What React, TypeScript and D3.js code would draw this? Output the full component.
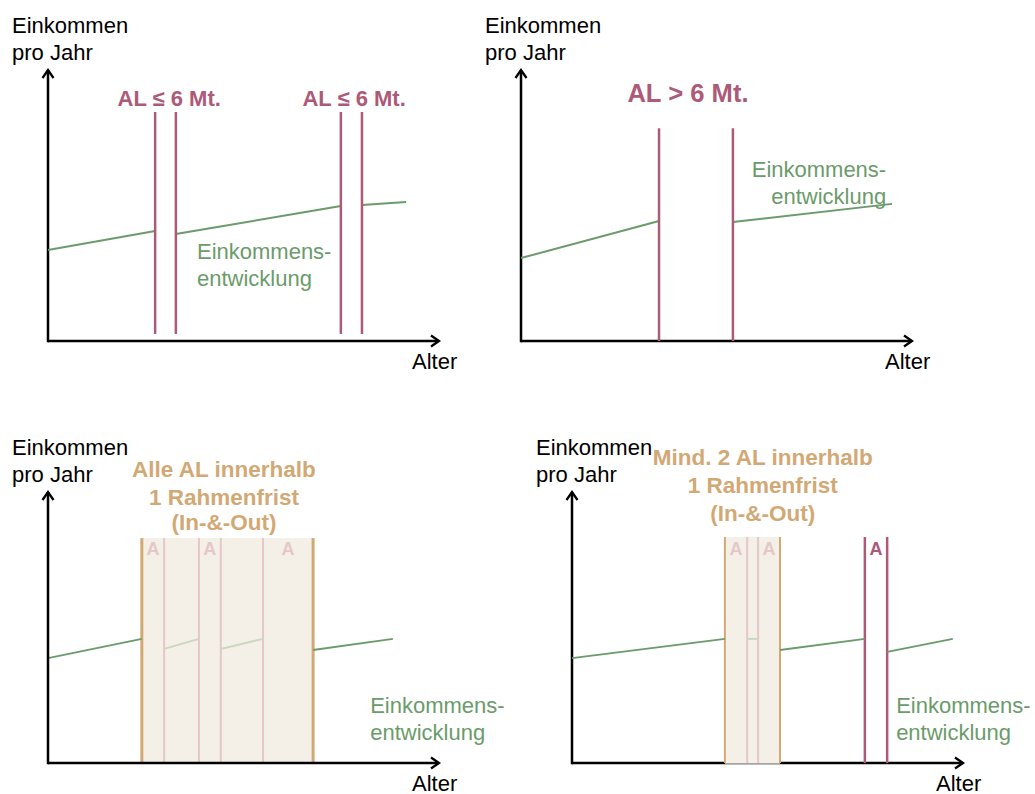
import React from "react";
import * as d3 from "d3";

// ---------- data (abstract units: Alter 0..100, Einkommen 0..100) ----------
const panelOrigins = [
  [48, 341],
  [521, 341],
  [48, 763],
  [572, 763],
];
const yAxisLabel = ["Einkommen", "pro Jahr"];
const xAxisLabel = "Alter";
const incomeLabel = ["Einkommens-", "entwicklung"];

// Panel 1: two short unemployment spells
const p1Spells = [
  [27.4, 32.7],
  [74.9, 80.3],
];
const p1Income = [
  [[0, 33.6], [27.4, 40.6]],
  [[32.7, 39.5], [74.9, 49.8]],
  [[80.3, 50.2], [91.6, 51.3]],
];
const p1SpellLabels = ["AL ≤ 6 Mt.", "AL ≤ 6 Mt."];
const p1SpellLabelX = [31, 78.3];

// Panel 2: one long unemployment spell
const p2Spells = [[35.3, 54.2]];
const p2Income = [
  [[0, 30.6], [35.3, 44.3]],
  [[54.2, 43.9], [94.9, 50.6]],
];
const p2SpellLabel = "AL > 6 Mt.";

// Panel 3: all spells inside one Rahmenfrist
const p3Frame = [24.0, 67.8];
const p3Spells = [
  [24.0, 29.7],
  [38.6, 44.2],
  [55.0, 67.8],
];
const p3Income = [
  [[0, 38.7], [24.0, 45.8]],
  [[67.8, 41.7], [88.2, 45.8]],
];
const p3FadedIncome = [
  [[29.7, 42.1], [38.6, 45.8]],
  [[44.2, 42.1], [55.0, 45.8]],
];
const p3Title = ["Alle AL innerhalb", "1 Rahmenfrist", "(In-&-Out)"];

// Panel 4: at least two spells inside one Rahmenfrist, plus a later spell
const p4Frame = [39.1, 53.2];
const p4FrameSpells = [
  [39.1, 44.8],
  [47.6, 53.2],
];
const p4LaterSpells = [[74.9, 80.6]];
const p4Income = [
  [[0, 38.7], [39.1, 45.8]],
  [[53.2, 41.7], [74.9, 45.8]],
  [[80.6, 41.0], [97.4, 45.8]],
];
const p4FadedIncome = [[[44.8, 45.8], [47.6, 45.8]]];
const p4Title = ["Mind. 2 AL innerhalb", "1 Rahmenfrist", "(In-&-Out)"];

// ---------- styles ----------
const FONT = "'Liberation Sans', Arial, Helvetica, sans-serif";
const MAGENTA = "#ad5a78";
const GREEN = "#6b9b6b";
const LIGHT_GREEN = "#c9d8bf";
const TAN = "#d2a874";
const FRAME_FILL = "#f5f0e7";
const PINK = "#e3c7c9";

const x = d3.scaleLinear().domain([0, 100]).range([0, 391]);
const y = d3.scaleLinear().domain([0, 100]).range([0, -271]);
const line = d3
  .line<number[]>()
  .x((d) => x(d[0]))
  .y((d) => y(d[1]));

function Axes({ grayUnder }: { grayUnder?: number[] }) {
  const xEnd = x(100);
  const yTop = y(100);
  return (
    <g>
      <line x1={0} y1={0} x2={xEnd} y2={0} stroke="#000" strokeWidth={2.5} />
      <line x1={0} y1={1.2} x2={0} y2={yTop} stroke="#000" strokeWidth={2.5} />
      <path
        d={`M${xEnd - 8},${-5.5} L${xEnd},0 L${xEnd - 8},${5.5}`}
        fill="none"
        stroke="#000"
        strokeWidth={2.3}
      />
      <path
        d={`M${-5.5},${yTop + 8} L0,${yTop} L${5.5},${yTop + 8}`}
        fill="none"
        stroke="#000"
        strokeWidth={2.3}
      />
      {grayUnder && (
        <line
          x1={x(grayUnder[0])}
          x2={x(grayUnder[1])}
          y1={0}
          y2={0}
          stroke="#a9a6a2"
          strokeWidth={2.6}
        />
      )}
      <text x={-36} y={-308} fontFamily={FONT} fontSize={22} fill="#000">
        {yAxisLabel[0]}
      </text>
      <text x={-36} y={-281} fontFamily={FONT} fontSize={22} fill="#000">
        {yAxisLabel[1]}
      </text>
      <text x={364} y={28} fontFamily={FONT} fontSize={22} fill="#000">
        {xAxisLabel}
      </text>
    </g>
  );
}

function IncomeLines({ segs, color, width }: { segs: number[][][]; color: string; width: number }) {
  return (
    <g>
      {segs.map((s, i) => (
        <path key={i} d={line(s) || ""} fill="none" stroke={color} strokeWidth={width} />
      ))}
    </g>
  );
}

function IncomeLabel({ xv, yv, anchor }: { xv: number; yv: number; anchor?: string }) {
  return (
    <g fontFamily={FONT} fontSize={22} fill={GREEN} textAnchor={anchor || "start"}>
      <text x={x(xv)} y={y(yv)}>{incomeLabel[0]}</text>
      <text x={x(xv)} y={y(yv) + 27}>{incomeLabel[1]}</text>
    </g>
  );
}

function SpellLines({ spells, top, bottom, color, width }: { spells: number[][]; top: number; bottom: number; color: string; width: number }) {
  return (
    <g>
      {spells.map((s, i) => (
        <g key={i}>
          <line x1={x(s[0])} x2={x(s[0])} y1={y(bottom)} y2={y(top)} stroke={color} strokeWidth={width} />
          <line x1={x(s[1])} x2={x(s[1])} y1={y(bottom)} y2={y(top)} stroke={color} strokeWidth={width} />
        </g>
      ))}
    </g>
  );
}

function SpellLetters({ spells, color, yv }: { spells: number[][]; color: string; yv: number }) {
  return (
    <g fontFamily={FONT} fontSize={18} fontWeight="bold" fill={color} textAnchor="middle">
      {spells.map((s, i) => (
        <text key={i} x={x((s[0] + s[1]) / 2)} y={y(yv)}>
          A
        </text>
      ))}
    </g>
  );
}

function Title({ lines, xv, baselines }: { lines: string[]; xv: number; baselines: number[] }) {
  return (
    <g fontFamily={FONT} fontSize={22.5} fontWeight="bold" fill={TAN} textAnchor="middle">
      {lines.map((t, i) => (
        <text key={i} x={x(xv)} y={baselines[i]}>
          {t}
        </text>
      ))}
    </g>
  );
}

function Frame({ frame, spells, top, border }: { frame: number[]; spells: number[][]; top: number; border: number }) {
  const inner: number[] = [];
  spells.forEach((s) => {
    if (s[0] !== frame[0] && s[0] !== frame[1]) inner.push(s[0]);
    if (s[1] !== frame[0] && s[1] !== frame[1]) inner.push(s[1]);
  });
  return (
    <g>
      <rect
        x={x(frame[0])}
        y={y(top)}
        width={x(frame[1]) - x(frame[0])}
        height={-y(top)}
        fill={FRAME_FILL}
      />
      {inner.map((v, i) => (
        <line key={i} x1={x(v)} x2={x(v)} y1={0} y2={y(top)} stroke={PINK} strokeWidth={2} />
      ))}
      {frame.map((v, i) => (
        <line key={"f" + i} x1={x(v)} x2={x(v)} y1={0} y2={y(top)} stroke={TAN} strokeWidth={border} />
      ))}
    </g>
  );
}

export default function App() {
  const [o1, o2, o3, o4] = panelOrigins;
  return (
    <svg
      width={1035}
      height={794}
      style={{ position: "fixed", left: 0, top: 0, background: "#fff" }}
    >
      {/* Panel 1 */}
      <g transform={`translate(${o1[0]},${o1[1]})`}>
        <Axes />
        <IncomeLines segs={p1Income} color={GREEN} width={2} />
        <SpellLines spells={p1Spells} top={84.5} bottom={2.6} color={MAGENTA} width={2.5} />
        <g fontFamily={FONT} fontSize={22} fontWeight="bold" fill={MAGENTA} textAnchor="middle">
          {p1SpellLabels.map((t, i) => (
            <text key={i} x={x(p1SpellLabelX[i])} y={y(86.7)}>
              {t}
            </text>
          ))}
        </g>
        <IncomeLabel xv={38.1} yv={30.3} />
      </g>

      {/* Panel 2 */}
      <g transform={`translate(${o2[0]},${o2[1]})`}>
        <Axes />
        <IncomeLines segs={p2Income} color={GREEN} width={2} />
        <SpellLines spells={p2Spells} top={78.5} bottom={0} color={MAGENTA} width={2.5} />
        <text
          x={x(42.7)}
          y={y(88.2)}
          fontFamily={FONT}
          fontSize={25.6}
          fontWeight="bold"
          fill={MAGENTA}
          textAnchor="middle"
        >
          {p2SpellLabel}
        </text>
        <IncomeLabel xv={93.4} yv={60.5} anchor="end" />
      </g>

      {/* Panel 3 */}
      <g transform={`translate(${o3[0]},${o3[1]})`}>
        <Frame frame={p3Frame} spells={p3Spells} top={83.0} border={3} />
        <SpellLetters spells={p3Spells} color={PINK} yv={76.8} />
        <IncomeLines segs={p3FadedIncome} color={LIGHT_GREEN} width={2} />
        <IncomeLines segs={p3Income} color={GREEN} width={2} />
        <Axes />
        <Title lines={p3Title} xv={45} baselines={[-286, -258, -233]} />
        <IncomeLabel xv={82.4} yv={18.5} />
      </g>

      {/* Panel 4 */}
      <g transform={`translate(${o4[0]},${o4[1]})`}>
        <Axes grayUnder={p4Frame} />
        <Frame frame={p4Frame} spells={p4FrameSpells} top={83.4} border={2} />
        <SpellLetters spells={p4FrameSpells} color={PINK} yv={76.8} />
        <IncomeLines segs={p4FadedIncome} color={LIGHT_GREEN} width={2} />
        <SpellLines spells={p4LaterSpells} top={83.4} bottom={0} color={MAGENTA} width={2.5} />
        <SpellLetters spells={p4LaterSpells} color={MAGENTA} yv={76.8} />
        <IncomeLines segs={p4Income} color={GREEN} width={2} />
        <Title lines={p4Title} xv={48.8} baselines={[-298, -270, -242]} />
        <IncomeLabel xv={82.9} yv={18.5} />
      </g>
    </svg>
  );
}
